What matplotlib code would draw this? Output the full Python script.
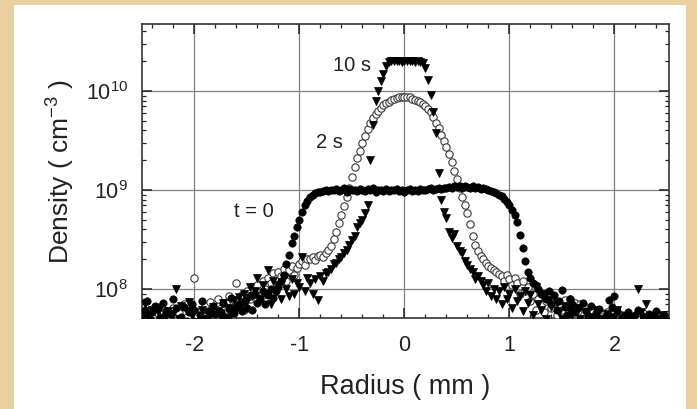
import matplotlib
matplotlib.use("Agg")
import matplotlib.pyplot as plt
from matplotlib.patches import Rectangle
from matplotlib.ticker import LogLocator, MultipleLocator, FixedLocator, NullFormatter
import numpy as np

plt.rcParams['font.family'] = ['Liberation Sans', 'DejaVu Sans']
plt.rcParams['mathtext.fontset'] = 'custom'
plt.rcParams['mathtext.rm'] = 'Liberation Sans'
plt.rcParams['mathtext.it'] = 'Liberation Sans:italic'

# ---------------- data ----------------
radius_mm = [
    -2.5, -2.475, -2.45, -2.425, -2.4, -2.375, -2.35, -2.325, -2.3, -2.275,
    -2.25, -2.225, -2.2, -2.175, -2.15, -2.125, -2.1, -2.075, -2.05, -2.025,
    -2.0, -1.975, -1.95, -1.925, -1.9, -1.875, -1.85, -1.825, -1.8, -1.775,
    -1.75, -1.725, -1.7, -1.675, -1.65, -1.625, -1.6, -1.575, -1.55, -1.525,
    -1.5, -1.475, -1.45, -1.425, -1.4, -1.375, -1.35, -1.325, -1.3, -1.275,
    -1.25, -1.225, -1.2, -1.175, -1.15, -1.125, -1.1, -1.075, -1.05, -1.025,
    -1.0, -0.975, -0.95, -0.925, -0.9, -0.875, -0.85, -0.825, -0.8, -0.775,
    -0.75, -0.725, -0.7, -0.675, -0.65, -0.625, -0.6, -0.575, -0.55, -0.525,
    -0.5, -0.475, -0.45, -0.425, -0.4, -0.375, -0.35, -0.325, -0.3, -0.275,
    -0.25, -0.225, -0.2, -0.175, -0.15, -0.125, -0.1, -0.075, -0.05, -0.025,
    0.0,
    0.025, 0.05, 0.075, 0.1, 0.125, 0.15, 0.175, 0.2, 0.225, 0.25,
    0.275, 0.3, 0.325, 0.35, 0.375, 0.4, 0.425, 0.45, 0.475, 0.5,
    0.525, 0.55, 0.575, 0.6, 0.625, 0.65, 0.675, 0.7, 0.725, 0.75,
    0.775, 0.8, 0.825, 0.85, 0.875, 0.9, 0.925, 0.95, 0.975, 1.0,
    1.025, 1.05, 1.075, 1.1, 1.125, 1.15, 1.175, 1.2, 1.225, 1.25,
    1.275, 1.3, 1.325, 1.35, 1.375, 1.4, 1.425, 1.45, 1.475, 1.5,
    1.525, 1.55, 1.575, 1.6, 1.625, 1.65, 1.675, 1.7, 1.725, 1.75,
    1.775, 1.8, 1.825, 1.85, 1.875, 1.9, 1.925, 1.95, 1.975, 2.0,
    2.025, 2.05, 2.075, 2.1, 2.125, 2.15, 2.175, 2.2, 2.225, 2.25,
    2.275, 2.3, 2.325, 2.35, 2.375, 2.4, 2.425, 2.45, 2.475, 2.5,
]

# densities in units of 1e8 cm^-3
density_t0 = [
    0.55, 0.62, 0.75, 0.5, 0.58, 0.68, 0.4, 0.52, 0.72, 0.6,
    0.45, 0.56, 0.8, 0.64, 0.38, 0.52, 0.66, 0.48, 0.58, 0.7,
    0.62, 0.42, 0.55, 0.76, 0.5, 0.6, 0.47, 0.68, 0.56, 0.44,
    0.58, 0.72, 0.52, 0.63, 0.82, 0.57, 0.66, 0.7, 0.6, 0.76,
    0.65, 0.85, 0.62, 0.9, 0.72, 0.8, 0.95, 0.7, 0.88, 1.0,
    0.82, 0.95,
    1.05, 1.2, 1.4, 1.8, 2.2, 2.9, 3.4, 4.2, 5.0, 6.0,
    7.0, 7.8, 8.5, 9.0, 9.3, 9.6, 9.5, 9.8, 10.0,
    9.7, 10.1, 9.9, 10.3, 9.8, 10.0, 10.4, 9.6, 10.2, 9.9,
    10.1, 9.7, 10.3, 10.0, 9.8, 10.2, 9.9, 10.4, 9.6, 10.1,
    10.0, 9.8, 10.2, 9.7, 10.1, 9.9, 10.3, 9.8, 10.0, 9.6,
    9.9, 10.2, 9.7, 10.0, 9.8, 10.3, 10.1, 9.9, 10.2, 10.4,
    10.0, 10.3, 10.5, 10.2, 10.6, 10.4, 10.8, 10.5, 11.0, 10.7,
    10.9, 10.6, 11.1, 10.8, 10.5, 10.9, 10.4, 10.7, 10.3, 10.5,
    10.2, 10.0, 9.8, 9.6, 9.3,
    9.0, 8.7, 8.2, 7.5, 7.0, 6.3, 5.6, 4.8, 3.5, 2.6,
    1.9, 1.5, 1.3, 1.15, 1.1, 1.0, 0.9, 0.85,
    0.8, 0.95, 0.7, 0.88, 0.62, 0.75, 0.98, 0.66, 0.55, 0.8,
    0.7, 0.58, 0.65, 0.48, 0.72, 0.6, 0.52, 0.68, 0.44, 0.57,
    0.63, 0.5, 0.4, 0.55, 0.78, 0.66, 0.85, 0.6, 0.46, 0.52,
    0.42, 0.58, 0.5, 0.38, 0.55, 0.62, 0.47, 0.53, 0.4, 0.56,
    0.45, 0.52, 0.6, 0.43, 0.5, 0.55, 0.48,
]

density_2s = [
    0.45, 0.58, 0.4, 0.62, 0.52, 0.35, 0.66, 0.5, 0.42, 0.6,
    0.55, 0.38, 0.64, 0.48, 0.57, 0.44, 0.7, 0.52, 0.6, 0.47,
    1.3, 0.55, 0.4, 0.62, 0.68, 0.5, 0.74, 0.45, 0.58, 0.8,
    0.65, 0.52, 0.72, 0.85, 0.6, 0.78, 1.15, 0.7, 0.88, 0.62,
    0.95, 0.8, 1.05, 0.9, 1.1, 0.85, 1.2, 1.0,
    1.3, 1.15, 1.45, 1.25, 1.5, 1.35, 1.6, 1.2, 1.55, 1.7,
    1.4, 1.65, 1.8, 1.9, 1.75, 2.0,
    2.0, 2.1, 1.95, 2.15, 2.2, 2.1, 2.3, 2.5, 2.75, 3.2,
    3.8, 4.6, 5.6, 6.9, 8.5, 10.5, 13.5, 17, 21, 25,
    30, 35, 41, 47, 53, 58, 63, 68, 72, 75,
    78, 81, 83, 85, 86, 87,
    88,
    87, 86, 84, 82, 80, 77, 74, 70, 66, 61,
    55, 48, 42, 36, 31, 27, 23, 19, 15.5, 12.8,
    10.5, 8.5, 7.0, 5.8, 4.5, 3.4, 2.8, 2.4, 2.15, 2.0,
    1.85, 1.7, 1.65, 1.55, 1.5, 1.42,
    1.35, 1.2, 1.4, 1.25, 1.1, 1.3, 1.15, 0.9, 1.2, 0.95,
    1.05, 0.75, 0.9, 0.62, 0.8, 0.7, 0.58, 0.75, 0.85, 0.65,
    0.72, 0.55, 0.68, 0.62, 0.78, 0.5, 0.8, 0.66, 0.72, 0.6,
    0.7, 0.5, 0.65, 0.42, 0.55, 0.6, 0.48, 0.38, 0.52, 0.45,
    0.58, 0.4, 0.5, 0.56, 0.43, 0.36, 0.55, 0.47, 0.4, 0.5,
    0.44, 0.38, 0.52, 0.42, 0.57, 0.46, 0.4, 0.53, 0.45, 0.38,
    0.5, 0.42, 0.55, 0.44,
]

density_10s = [
    0.42, 0.7, 0.55, 0.48, 0.62, 0.38, 0.58, 0.65, 0.45, 0.52,
    0.6, 0.4, 0.56, 1.0, 0.5, 0.68, 0.44, 0.6, 0.74, 0.55,
    0.58, 0.46, 0.54, 0.62, 0.4, 0.5, 0.57, 0.66, 0.45, 0.6,
    0.52, 0.72, 0.48, 0.65, 0.56, 0.78, 0.62, 0.84, 0.7, 0.9,
    0.75, 1.05, 0.85, 0.95, 1.3, 0.8, 1.1, 0.9, 1.55, 0.7,
    1.2, 0.95, 1.1, 0.8, 1.3, 1.0, 0.85, 1.25, 0.9, 1.15,
    1.05, 2.1, 0.95, 1.3, 1.15, 0.9, 1.25, 0.77, 1.35, 1.2,
    1.45, 1.5, 1.6, 1.8, 1.85, 2.0, 2.1, 2.3, 2.5, 2.8,
    3.1, 3.4, 4.2, 4.6, 5.0, 5.8,
    7.0, 20, 45, 80, 100, 125, 150, 178,
    196, 200, 202, 199, 201, 198, 200, 203, 199, 201, 198, 200, 197,
    190, 172, 130, 92, 62, 38, 15, 8, 6,
    5.2, 3.8, 3.3, 3.6, 2.7, 2.4, 2.3, 1.9, 1.75, 1.6,
    1.5, 1.25, 1.35, 1.2, 1.1, 0.95, 1.15, 0.85, 1.0, 0.8,
    0.95, 0.7, 1.05, 0.8, 0.9, 0.65, 1.0, 0.75, 0.85, 0.6,
    0.95, 0.72, 0.88, 0.55, 1.05, 0.7, 0.62, 0.9, 0.5, 0.78,
    0.66, 0.45, 0.72, 0.58, 0.5, 0.68, 0.42, 0.6, 0.55, 0.38,
    0.64, 0.5, 0.46, 0.58, 0.4, 0.52, 0.48, 0.62, 0.35, 0.5,
    0.44, 0.56, 0.4, 0.48, 0.52, 0.62, 0.38, 0.46, 0.54, 0.42,
    0.5, 0.36, 0.45, 1.0, 0.58, 0.45, 0.7, 0.48, 0.52, 0.38,
    0.5, 0.44, 0.55, 0.4, 0.47,
]

x_ticks = [-2, -1, 0, 1, 2]
y_ticks = [1e8, 1e9, 1e10]
y_tick_labels = [r'$\mathregular{10^{8}}$', r'$\mathregular{10^{9}}$', r'$\mathregular{10^{10}}$']
labels = [("10 s", -0.5, 1.8e10), ("2 s", -0.71, 3.0e9), ("t = 0", -1.43, 6.0e8)]

unit = 1e8
r = np.array(radius_mm)
n0 = np.array(density_t0) * unit
n2 = np.array(density_2s) * unit
n10 = np.array(density_10s) * unit

# ---------------- figure ----------------
fig = plt.figure(figsize=(6.97, 4.09), dpi=100)
fig.patch.set_facecolor('#e8d0a0')
bg = Rectangle((14 / 697, 0), (686 - 14) / 697, (409 - 5) / 409,
               transform=fig.transFigure, facecolor='white', edgecolor='none', zorder=-10)
fig.add_artist(bg)

ax = fig.add_axes([142 / 697, 1 - 318 / 409, (669 - 142) / 697, (318 - 24) / 409])
ax.set_zorder(1)
ax.set_yscale('log')

ax.plot(r, n2, linestyle='none', marker='o', markersize=5.3, markerfacecolor='white',
        markeredgecolor='#3a3a3a', markeredgewidth=0.8, zorder=3)
ax.plot(r, n0, linestyle='none', marker='o', markersize=5.3, markerfacecolor='black',
        markeredgecolor='black', markeredgewidth=0.5, zorder=4)
ax.plot(r, n10, linestyle='none', marker='v', markersize=6.0, markerfacecolor='black',
        markeredgecolor='black', markeredgewidth=0.5, zorder=5)

ax.set_xlim(-2.5, 2.52)
ax.set_ylim(5.1e7, 4.75e10)

ax.xaxis.set_major_locator(FixedLocator(x_ticks))
ax.xaxis.set_minor_locator(MultipleLocator(0.2))
ax.yaxis.set_major_locator(FixedLocator(y_ticks))
ax.yaxis.set_minor_locator(LogLocator(base=10, subs=np.arange(2, 10)))
ax.yaxis.set_minor_formatter(NullFormatter())
ax.set_xticklabels([str(t) for t in x_ticks])
ax.set_yticklabels(y_tick_labels)

ax.tick_params(which='both', direction='in', top=True, right=True, colors='#222222',
               labelcolor='#222222')
ax.tick_params(which='major', length=7, width=1.1, labelsize=15.5)
ax.tick_params(which='minor', length=3, width=0.9)
ax.tick_params(axis='x', which='major', pad=12)
ax.tick_params(axis='y', which='major', pad=10)

ax.grid(True, which='major', color='#808080', linewidth=0.9)
ax.set_axisbelow(True)
for s in ax.spines.values():
    s.set_linewidth(1.2)
    s.set_color('#333333')

for txt, xx, yy in labels:
    ax.text(xx, yy, txt, fontsize=14.5, color='#222222', ha='center', va='center', zorder=6)

ax.set_xlabel('Radius ( mm )', fontsize=19.5, color='#222222', labelpad=13)
ax.set_ylabel(r'Density ( cm$^{\mathregular{-3}}$ )', fontsize=19, color='#222222', labelpad=6)

fig.savefig('out.png', dpi=100, facecolor=fig.get_facecolor())
